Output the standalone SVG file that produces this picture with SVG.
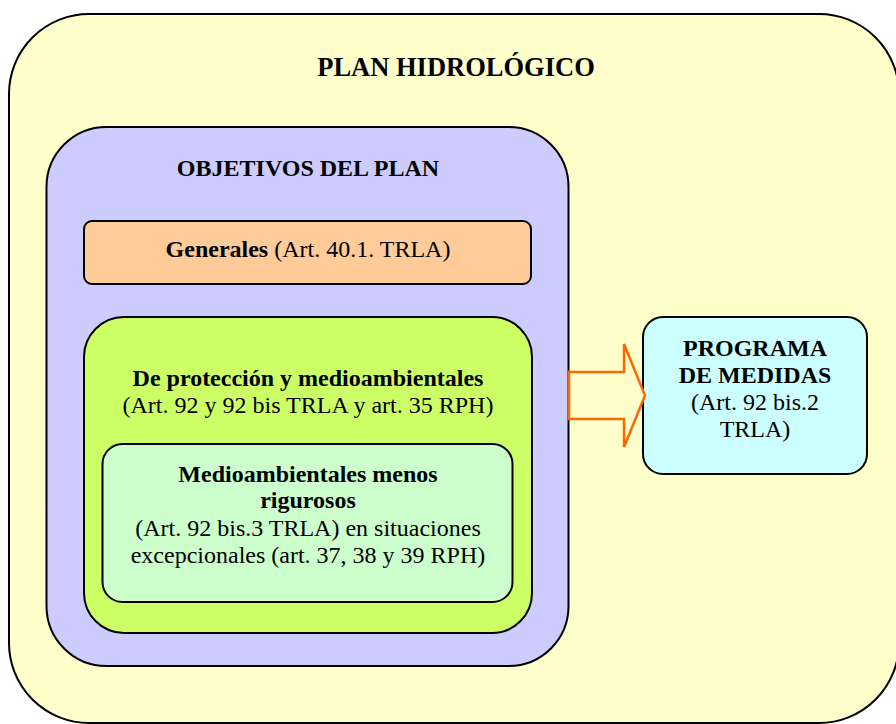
<svg xmlns="http://www.w3.org/2000/svg" width="896" height="724" viewBox="0 0 896 724">
<style>
.box{stroke:#000;stroke-width:2}
text{font-family:"Liberation Serif","Times New Roman",serif;font-size:24px;fill:#000;text-anchor:middle}
.b{font-weight:bold}
.t{font-size:26.5px;font-weight:bold}
</style>
<rect width="896" height="724" fill="#fff"/>
<g id="plan">
<rect class="box" x="9" y="14" width="890" height="709" rx="80" fill="#FFFFCC"/>
<text class="t" x="456" y="76">PLAN HIDROLÓGICO</text>
</g>
<g id="objetivos">
<rect class="box" x="46.5" y="127" width="522" height="539" rx="60" fill="#CCCCFF"/>
<text class="b" x="308" y="176">OBJETIVOS DEL PLAN</text>
</g>
<g id="generales">
<rect class="box" x="84" y="221" width="447" height="63" rx="8" fill="#FFCC99"/>
<text x="308" y="257"><tspan class="b">Generales</tspan> (Art. 40.1. TRLA)</text>
</g>
<g id="proteccion">
<rect class="box" x="84" y="317" width="448" height="316" rx="40" fill="#CCFF66"/>
<text class="b" x="308" y="386">De protección y medioambientales</text>
<text x="308" y="413">(Art. 92 y 92 bis TRLA y art. 35 RPH)</text>
</g>
<g id="menos-rigurosos">
<rect class="box" x="102.5" y="444" width="410" height="158" rx="20" fill="#CCFFCC"/>
<text class="b" x="308" y="482">Medioambientales menos</text>
<text class="b" x="308" y="508">rigurosos</text>
<text x="308" y="536">(Art. 92 bis.3 TRLA) en situaciones</text>
<text x="308" y="563">excepcionales (art. 37, 38 y 39 RPH)</text>
</g>
<g id="programa">
<rect class="box" x="643" y="317" width="224" height="157" rx="20" fill="#CCFFFF"/>
<text class="b" x="755" y="356">PROGRAMA</text>
<text class="b" x="755" y="383">DE MEDIDAS</text>
<text x="755" y="410">(Art. 92 bis.2</text>
<text x="755" y="437">TRLA)</text>
</g>
<g id="connectors">
<polygon points="569,372 624,372 624,344 645,395.5 624,447 624,419 569,419" fill="#FFFFCC" stroke="#FF6600" stroke-width="2.5"/>
</g>
</svg>
